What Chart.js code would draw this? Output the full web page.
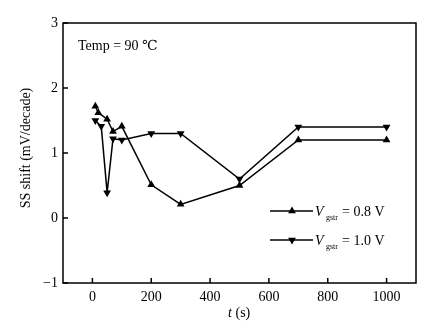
<!DOCTYPE html>
<html lang="en">
<head>
<meta charset="UTF-8">
<title>SS shift vs stress time</title>
<script src="https://cdn.jsdelivr.net/npm/chart.js"></script>
<style>
  body { margin: 0; background: #fff; }
  #wrap { width: 446px; height: 326px; }
</style>
</head>
<body>
<div id="wrap"><canvas id="ssChart" width="446" height="326"></canvas></div>
<script>
  // values
  const timeLow = [10, 20, 50, 70, 100, 200, 300, 500, 700, 1000];
  const shiftLow = [1.72, 1.62, 1.52, 1.33, 1.41, 0.51, 0.21, 0.5, 1.2, 1.2];
  const timeHigh = [10, 30, 50, 70, 100, 200, 300, 500, 700, 1000];
  const shiftHigh = [1.5, 1.41, 0.39, 1.22, 1.2, 1.3, 1.3, 0.6, 1.4, 1.4];
  const xTicks = [0, 200, 400, 600, 800, 1000];
  const yTicks = [-1, 0, 1, 2, 3];
  const legendValues = ['0.8 V', '1.0 V'];

  const FONT = "'Liberation Serif', 'DejaVu Serif', serif";

  function tri(ctx, x, y, r, down) {
    const s = down ? -1 : 1;
    ctx.beginPath();
    ctx.moveTo(x, y - s * r);
    ctx.lineTo(x + r * 0.866, y + s * r * 0.5);
    ctx.lineTo(x - r * 0.866, y + s * r * 0.5);
    ctx.closePath();
    ctx.fill();
  }

  // frame, inward ticks, titles, legend
  const decor = {
    id: 'decor',
    afterDraw(chart) {
      const ctx = chart.ctx;
      const a = chart.chartArea;
      const xs = chart.scales.x, ys = chart.scales.y;
      ctx.save();
      ctx.strokeStyle = '#000';
      ctx.fillStyle = '#000';
      ctx.lineWidth = 1.5;
      ctx.strokeRect(a.left, a.top, a.right - a.left, a.bottom - a.top);
      ctx.beginPath();
      xTicks.forEach(v => {
        const px = xs.getPixelForValue(v);
        ctx.moveTo(px, a.bottom); ctx.lineTo(px, a.bottom - 5);
      });
      yTicks.forEach(v => {
        const py = ys.getPixelForValue(v);
        ctx.moveTo(a.left, py); ctx.lineTo(a.left + 5, py);
      });
      ctx.stroke();

      ctx.textBaseline = 'alphabetic';
      ctx.font = '14px ' + FONT;
      ctx.fillText('Temp = 90 ℃', 78, 50);

      // x title with italic t
      ctx.font = 'italic 14px ' + FONT;
      ctx.fillText('t', 228, 317);
      ctx.font = '14px ' + FONT;
      ctx.fillText(' (s)', 232, 317);

      // y title
      ctx.save();
      ctx.translate(30, (a.top + a.bottom) / 2 - 5);
      ctx.rotate(-Math.PI / 2);
      ctx.textAlign = 'center';
      ctx.fillText('SS shift (mV/decade)', 0, 0);
      ctx.restore();

      // legend
      const rows = [211, 240];
      rows.forEach((y, i) => {
        ctx.lineWidth = 1.3;
        ctx.beginPath();
        ctx.moveTo(270, y); ctx.lineTo(313, y);
        ctx.stroke();
        tri(ctx, 292, y, 4.5, i === 1);
        ctx.font = 'italic 14px ' + FONT;
        ctx.fillText('V', 315, y + 5);
        ctx.font = 'normal 8px ' + FONT;
        ctx.fillText('gstr', 326, y + 9);
        ctx.font = '14px ' + FONT;
        ctx.fillText('= ' + legendValues[i], 342, y + 5);
      });
      ctx.restore();
    }
  };

  const ctx = document.getElementById('ssChart').getContext('2d');
  new Chart(ctx, {
    type: 'line',
    data: {
      datasets: [
        {
          label: 'Vgstr = 0.8 V',
          data: timeLow.map((t, i) => ({ x: t, y: shiftLow[i] })),
          borderColor: '#000',
          backgroundColor: '#000',
          borderWidth: 1.5,
          pointStyle: 'triangle',
          pointRadius: 4.5,
          pointBorderWidth: 0,
          tension: 0
        },
        {
          label: 'Vgstr = 1.0 V',
          data: timeHigh.map((t, i) => ({ x: t, y: shiftHigh[i] })),
          borderColor: '#000',
          backgroundColor: '#000',
          borderWidth: 1.5,
          pointStyle: 'triangle',
          rotation: 180,
          pointRadius: 4.5,
          pointBorderWidth: 0,
          tension: 0
        }
      ]
    },
    options: {
      responsive: false,
      animation: false,
      layout: { padding: { left: 0, top: 23, right: 30, bottom: 0 } },
      plugins: { legend: { display: false }, tooltip: { enabled: false } },
      scales: {
        x: {
          type: 'linear',
          min: -100,
          max: 1100,
          afterBuildTicks: s => { s.ticks = xTicks.map(v => ({ value: v })); },
          afterFit: s => { s.height = 43; },
          grid: { display: false, drawTicks: false },
          border: { display: false },
          ticks: {
            color: '#000', padding: 6, maxRotation: 0, font: { family: FONT, size: 14 },
            callback: v => String(v)
          }
        },
        y: {
          min: -1,
          max: 3,
          afterBuildTicks: s => { s.ticks = yTicks.map(v => ({ value: v })); },
          afterFit: s => { s.width = 63; },
          grid: { display: false, drawTicks: false },
          border: { display: false },
          ticks: {
            color: '#000', padding: 5, font: { family: FONT, size: 14 },
            callback: v => v < 0 ? '\u2212' + Math.abs(v) : String(v)
          }
        }
      }
    },
    plugins: [decor]
  });
</script>
</body>
</html>
